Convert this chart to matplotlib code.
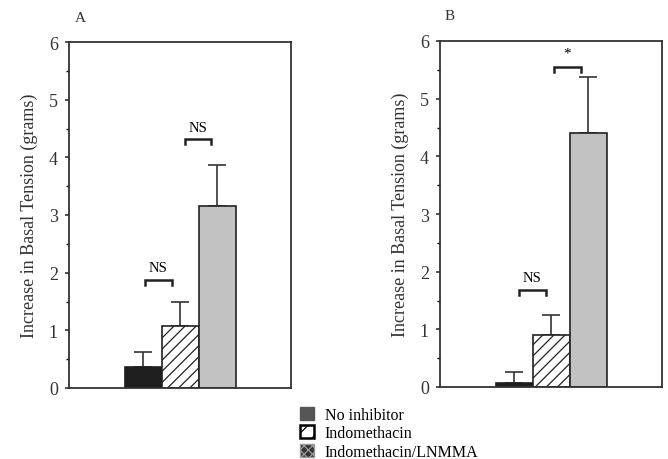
import matplotlib
matplotlib.use("Agg")
import matplotlib.pyplot as plt
from matplotlib.patches import Patch
from matplotlib.ticker import MultipleLocator

plt.rcParams['font.family'] = ['Liberation Serif', 'DejaVu Serif']

groups = ["No inhibitor", "Indomethacin", "Indomethacin/LNMMA"]
panel_labels = ["A", "B"]
means_A = [0.36, 1.08, 3.16]
errs_A = [0.27, 0.42, 0.71]
means_B = [0.07, 0.90, 4.40]
errs_B = [0.19, 0.35, 0.97]
# comparison brackets: (x0, x1, y, label)
brackets_A = [(2.05, 2.78, 1.87, "NS"), (3.14, 3.84, 4.31, "NS")]
brackets_B = [(2.14, 2.86, 1.68, "NS"), (3.08, 3.81, 5.55, "*")]
ylabel = "Increase in Basal Tension (grams)"

W, H = 668, 460
fig = plt.figure(figsize=(W / 100, H / 100), dpi=100)

def fx(px):
    return px / W

def fy(py):
    return 1 - py / H

axA = fig.add_axes([fx(69), fy(389), fx(222), 346 / H])
axB = fig.add_axes([fx(440), fy(388), fx(222), 346 / H])

positions = [2, 3, 4]
styles = [
    dict(facecolor="#1e1e1e", edgecolor="#1e1e1e", hatch=None),
    dict(facecolor="white", edgecolor="#222222", hatch="///"),
    dict(facecolor="#c2c2c2", edgecolor="#222222", hatch=None),
]

plt.rcParams['hatch.linewidth'] = 0.9

label_pos = [(80, 19), (450, 17)]

for ax, means, errs, brackets, lab, lp in [
    (axA, means_A, errs_A, brackets_A, panel_labels[0], label_pos[0]),
    (axB, means_B, errs_B, brackets_B, panel_labels[1], label_pos[1]),
]:
    for x, m, e, st in zip(positions, means, errs, styles):
        ax.bar(x, m, width=1.0, facecolor=st["facecolor"], edgecolor=st["edgecolor"],
               hatch=st["hatch"], linewidth=1.2, zorder=2)
        ax.errorbar(x, m, yerr=[[0], [e]], fmt="none", ecolor="#333333",
                    elinewidth=1.2, capsize=6.5, capthick=1.2, zorder=1)
    for x0, x1, y, t in brackets:
        ax.plot([x0, x0, x1, x1], [y - 0.08, y, y, y - 0.08], color="#222222", lw=1.8,
                solid_joinstyle="miter")
        if t == "*":
            ax.text((x0 + x1) / 2, y + 0.12, t, ha="center", va="bottom", fontsize=11)
        else:
            ax.text((x0 + x1) / 2, y + 0.1, t, ha="center", va="bottom", fontsize=10.5)
    ax.set_xlim(0, 6)
    ax.set_ylim(0, 6)
    ax.set_xticks([])
    ax.yaxis.set_major_locator(MultipleLocator(1))
    ax.yaxis.set_minor_locator(MultipleLocator(0.5))
    ax.tick_params(axis="y", which="major", direction="out", length=3, width=1.2,
                   labelsize=13, pad=5, colors="#333333")
    ax.tick_params(axis="y", which="minor", direction="out", length=2, width=1.0)
    for s in ax.spines.values():
        s.set_linewidth(1.3)
        s.set_color("#333333")
    ax.set_ylabel(ylabel, fontsize=13, color="#333333", labelpad=8)
    fig.text(fx(lp[0]), fy(lp[1]), lab, ha="center", va="center",
             fontsize=11, color="#333333")

# legend
handles = [
    Patch(facecolor="#555555", edgecolor="#555555"),
    Patch(facecolor="white", edgecolor="black", hatch="//", linewidth=1.8),
    Patch(facecolor="#333333", edgecolor="#999999", hatch="xxxx", linewidth=1.0),
]
fig.legend(handles, groups, loc="upper left", bbox_to_anchor=(fx(300), fy(408)),
           frameon=False, fontsize=11.5, handlelength=0.85, handleheight=0.85,
           handletextpad=0.7, labelspacing=0.15, borderaxespad=0, borderpad=0)

fig.savefig("out.png", dpi=100)
